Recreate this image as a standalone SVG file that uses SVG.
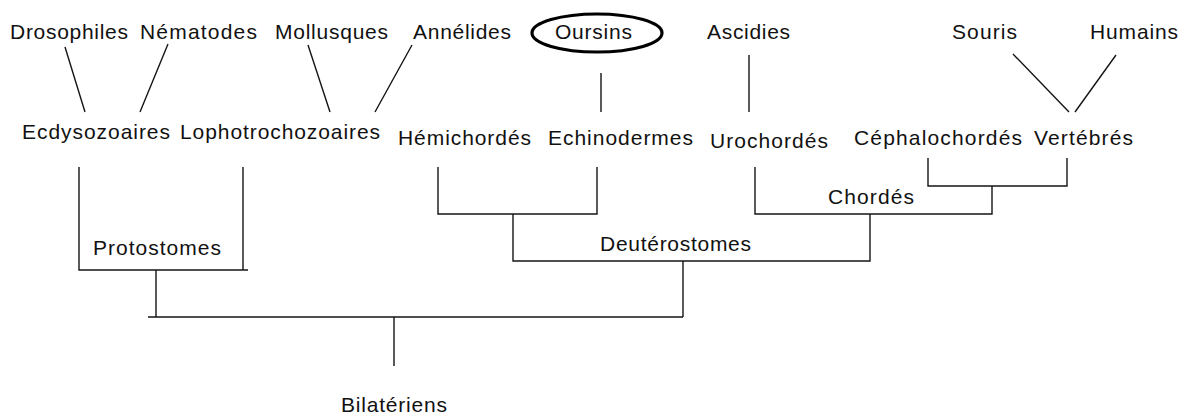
<svg xmlns="http://www.w3.org/2000/svg" width="1184" height="417" viewBox="0 0 1184 417">
<style>
text{font-family:"Liberation Sans",Arial,sans-serif;font-size:21px;fill:#111}
.ln{stroke:#151515;stroke-width:1.4;fill:none}
.ring{stroke:#000;stroke-width:3.2;fill:none}
</style>
<rect width="1184" height="417" fill="#fff"/>
<g id="connectors">
<path class="ln" d="M65 47L85 112M168 44L140 112M308 45L330 112M412 45L375 112M601 73V112M749 55V112M1013 54L1069 112M1116 55L1075 112"/>
<path class="ln" d="M79 167V270H248M243 167V270M156 270V317"/>
<path class="ln" d="M148 317H683M683 261V317M394 317V366"/>
<path class="ln" d="M438 167V214H597V167M513 214V261H870V214"/>
<path class="ln" d="M755 167V214H992V186M928 158V186H1067V158"/>
</g>
<g id="n-drosophiles"><text x="10" y="39" textLength="118">Drosophiles</text></g>
<g id="n-nematodes"><text x="140" y="39" textLength="117">Nématodes</text></g>
<g id="n-mollusques"><text x="275" y="39" textLength="113">Mollusques</text></g>
<g id="n-annelides"><text x="413" y="39" textLength="98">Annélides</text></g>
<g id="n-oursins"><ellipse class="ring" cx="597" cy="33" rx="65" ry="19"/><text x="555" y="39" textLength="77">Oursins</text></g>
<g id="n-ascidies"><text x="707" y="39" textLength="83">Ascidies</text></g>
<g id="n-souris"><text x="952" y="39" textLength="65">Souris</text></g>
<g id="n-humains"><text x="1090" y="39" textLength="88">Humains</text></g>
<g id="n-ecdysozoaires"><text x="22" y="139" textLength="148">Ecdysozoaires</text></g>
<g id="n-lophotrochozoaires"><text x="180" y="139" textLength="200">Lophotrochozoaires</text></g>
<g id="n-hemichordes"><text x="398" y="145" textLength="133">Hémichordés</text></g>
<g id="n-echinodermes"><text x="548" y="145" textLength="145">Echinodermes</text></g>
<g id="n-urochordes"><text x="710" y="148" textLength="118">Urochordés</text></g>
<g id="n-cephalochordes"><text x="854" y="145" textLength="168">Céphalochordés</text></g>
<g id="n-vertebres"><text x="1034" y="145" textLength="99">Vertébrés</text></g>
<g id="n-protostomes"><text x="93" y="255" textLength="128">Protostomes</text></g>
<g id="n-deuterostomes"><text x="600" y="251" textLength="151">Deutérostomes</text></g>
<g id="n-chordes"><text x="828" y="204" textLength="86">Chordés</text></g>
<g id="n-bilateriens"><text x="341" y="412" textLength="106">Bilatériens</text></g>
</svg>
